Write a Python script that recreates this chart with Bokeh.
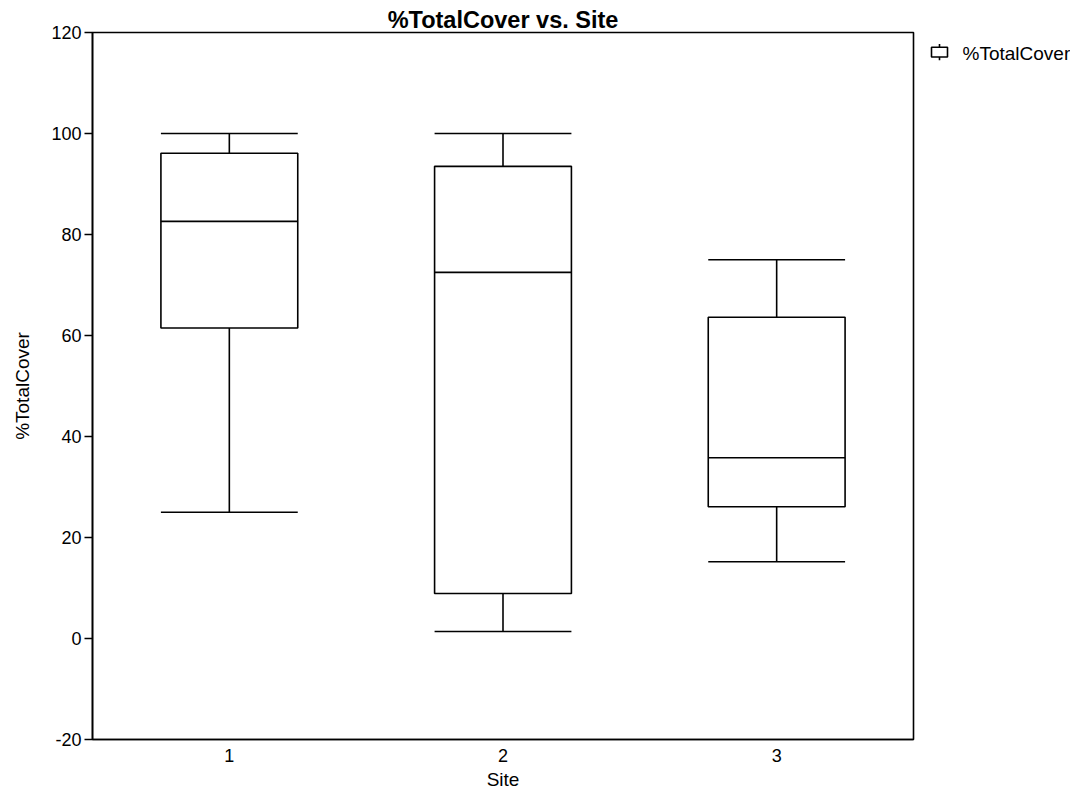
from bokeh.plotting import figure
from bokeh.layouts import row
from bokeh.models import ColumnDataSource, FixedTicker, Range1d
from bokeh.core.properties import value
from bokeh.embed import file_html
from bokeh.resources import INLINE

# Data
sites = [1, 2, 3]
site_labels = ["1", "2", "3"]
whisker_low = [25.0, 1.4, 15.2]
q1 = [61.5, 8.9, 26.1]
median = [82.6, 72.5, 35.8]
q3 = [96.1, 93.5, 63.6]
whisker_high = [100.0, 100.0, 75.0]
y_ticks = [-20, 0, 20, 40, 60, 80, 100, 120]
series_name = "%TotalCover"

BOX_W = 0.5
FONT = "Liberation Sans"
LW = 1.6
H = 792

src = ColumnDataSource(dict(
    x=sites,
    x0=[s - BOX_W / 2 for s in sites],
    x1=[s + BOX_W / 2 for s in sites],
    low=whisker_low, q1=q1, med=median, q3=q3, high=whisker_high,
))

p = figure(width=915, height=H, output_backend="svg", toolbar_location=None,
           x_range=Range1d(0.5, 3.5), y_range=Range1d(-20, 120),
           min_border_left=92, min_border_right=2, min_border_top=32,
           min_border_bottom=52)

p.title.text = "%TotalCover vs. Site"
p.title.align = "center"
p.title.text_font = FONT
p.title.text_font_size = "23.5px"
p.title.text_font_style = "bold"
p.title.text_color = "black"
p.title.standoff = 0
p.title.offset = 0

p.xgrid.visible = False
p.ygrid.visible = False
p.outline_line_color = "black"
p.outline_line_width = LW
p.outline_line_alpha = 1.0

# whiskers
p.segment(x0="x", y0="q3", x1="x", y1="high", source=src, line_color="black", line_width=LW)
p.segment(x0="x", y0="q1", x1="x", y1="low", source=src, line_color="black", line_width=LW)
p.segment(x0="x0", y0="high", x1="x1", y1="high", source=src, line_color="black", line_width=LW)
p.segment(x0="x0", y0="low", x1="x1", y1="low", source=src, line_color="black", line_width=LW)
# boxes
p.vbar(x="x", width=BOX_W, bottom="q1", top="q3", source=src,
       fill_color="white", line_color="black", line_width=LW)
p.segment(x0="x0", y0="med", x1="x1", y1="med", source=src, line_color="black", line_width=LW)

# axes
p.xaxis.ticker = FixedTicker(ticks=sites)
p.xaxis.major_label_overrides = {s: l for s, l in zip(sites, site_labels)}
p.xaxis.major_tick_out = 0
p.xaxis.major_tick_in = 0
p.xaxis.minor_tick_out = 0
p.xaxis.minor_tick_in = 0
p.xaxis.axis_label = "Site"
p.xaxis.major_label_standoff = 9
p.xaxis.axis_label_standoff = 4

p.yaxis.ticker = FixedTicker(ticks=y_ticks)
p.yaxis.major_label_overrides = {t: str(t) for t in y_ticks}
p.yaxis.major_tick_out = 8
p.yaxis.major_tick_in = 0
p.yaxis.minor_tick_out = 0
p.yaxis.minor_tick_in = 0
p.yaxis.axis_label = "%TotalCover"
p.yaxis.major_label_standoff = 3
p.yaxis.axis_label_standoff = 15

for ax in (p.xaxis, p.yaxis):
    ax.axis_line_color = "black"
    ax.axis_line_width = LW
    ax.major_tick_line_color = "black"
    ax.major_tick_line_width = LW
    ax.major_label_text_font = FONT
    ax.major_label_text_font_size = "18px"
    ax.major_label_text_color = "black"
    ax.axis_label_text_font = FONT
    ax.axis_label_text_font_size = "19px"
    ax.axis_label_text_font_style = "normal"
    ax.axis_label_text_color = "black"

# legend panel to the right of the plot frame (pixel-unit ranges, y downward)
LG_W = 155
lg = figure(width=LG_W, height=H, output_backend="svg", toolbar_location=None,
            x_range=Range1d(0, LG_W), y_range=Range1d(H, 0),
            min_border=0, outline_line_color=None)
lg.title = None
lg.axis.visible = False
lg.grid.visible = False

# legend entry layout (units within the legend panel)
icon_x, icon_y = 24, 22          # icon centre
icon_w, icon_h = 16, 11          # little box
whisk_h = 18                     # whisker line length
label_x = 47

lg.segment(x0=[icon_x], y0=[icon_y - whisk_h / 2], x1=[icon_x], y1=[icon_y + whisk_h / 2],
           line_color="black", line_width=LW)
lg.quad(left=[icon_x - icon_w / 2], right=[icon_x + icon_w / 2],
        top=[icon_y - icon_h / 2], bottom=[icon_y + icon_h / 2],
        fill_color="white", line_color="black", line_width=LW)
lg.text(x=[label_x], y=[icon_y + 1], text=[series_name], text_baseline="middle",
        text_align="left", text_font=value(FONT), text_font_size="19px",
        text_color="black")

layout = row(p, lg)
open("out.html", "w").write(file_html(layout, INLINE))
